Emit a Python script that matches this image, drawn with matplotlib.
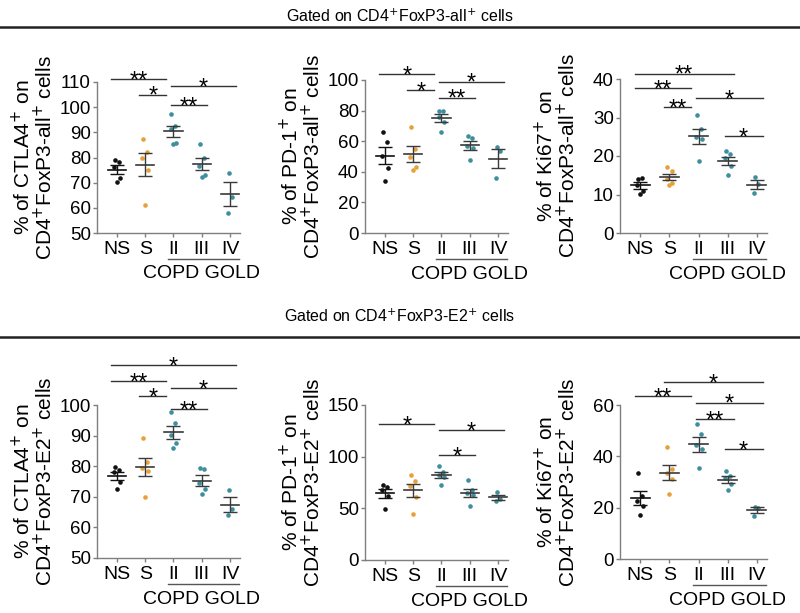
import numpy as np
import matplotlib.pyplot as plt
from matplotlib.lines import Line2D

plt.rcParams['font.family'] = ['Liberation Sans', 'DejaVu Sans']

# Groups
groups = ['NS', 'S', 'II', 'III', 'IV']
group_colors = ['#111111', '#E8A03A', '#3D8E9E']  # NS, S, COPD
point_colors = [group_colors[0], group_colors[1], group_colors[2], group_colors[2], group_colors[2]]

# Panel 1: CTLA4+ on CD4+FoxP3-all+ cells
ctla4_all_ns = [79.0, 78.3, 76.1, 72.0, 70.4]
ctla4_all_s = [87.5, 82.0, 80.0, 75.0, 61.0]
ctla4_all_ii = [97.1, 92.5, 91.3, 85.6, 85.3]
ctla4_all_iii = [85.2, 79.7, 76.6, 73.0, 72.4]
ctla4_all_iv = [74.0, 64.5, 57.9]

# Panel 2: PD-1+ on CD4+FoxP3-all+ cells
pd1_all_ns = [66.3, 59.8, 50.4, 42.4, 34.1]
pd1_all_s = [69.6, 55.0, 50.0, 43.0, 41.0]
pd1_all_ii = [80.0, 80.0, 76.0, 72.8, 65.7]
pd1_all_iii = [63.5, 62.0, 57.0, 55.5, 48.0]
pd1_all_iv = [55.9, 53.7, 35.9]

# Panel 3: Ki67+ on CD4+FoxP3-all+ cells
ki67_all_ns = [14.0, 14.2, 12.5, 10.8, 10.2]
ki67_all_s = [17.2, 16.0, 14.0, 13.0, 12.5]
ki67_all_ii = [30.7, 27.0, 25.0, 24.5, 18.6]
ki67_all_iii = [21.2, 20.5, 19.5, 17.5, 15.0]
ki67_all_iv = [14.5, 12.8, 10.4]

# Panel 4: CTLA4+ on CD4+FoxP3-E2+ cells
ctla4_e2_ns = [79.7, 78.6, 78.0, 75.0, 72.5]
ctla4_e2_s = [89.3, 81.3, 79.5, 78.5, 70.0]
ctla4_e2_ii = [97.6, 94.0, 90.2, 87.5, 86.1]
ctla4_e2_iii = [79.4, 79.2, 74.5, 72.5, 71.0]
ctla4_e2_iv = [72.3, 66.0, 64.1]

# Panel 5: PD-1+ on CD4+FoxP3-E2+ cells
pd1_e2_ns = [73.0, 71.0, 68.0, 62.0, 49.0]
pd1_e2_s = [82.0, 76.5, 72.0, 61.0, 45.0]
pd1_e2_ii = [91.0, 85.5, 82.0, 80.0, 72.6]
pd1_e2_iii = [77.0, 68.0, 65.0, 63.0, 52.3]
pd1_e2_iv = [65.5, 59.0, 57.5]

# Panel 6: Ki67+ on CD4+FoxP3-E2+ cells
ki67_e2_ns = [33.7, 24.5, 22.5, 20.8, 17.2]
ki67_e2_s = [43.5, 35.0, 33.5, 31.0, 25.4]
ki67_e2_ii = [52.6, 48.7, 44.4, 42.8, 35.4]
ki67_e2_iii = [34.3, 32.4, 31.5, 29.3, 27.0]
ki67_e2_iv = [20.4, 20.0, 16.8]

# Significance brackets: (from group, to group, height, label)
sig_ctla4_all = [(0, 2, 111.3, '**'), (1, 2, 105.0, '*'), (2, 4, 108.4, '*'), (2, 3, 100.8, '**')]
sig_pd1_all = [(0, 2, 103.9, '*'), (1, 2, 93.5, '*'), (2, 4, 98.9, '*'), (2, 3, 88.5, '**')]
sig_ki67_all = [(0, 3, 41.4, '**'), (0, 2, 37.7, '**'), (1, 2, 32.7, '**'), (2, 4, 35.1, '*'), (3, 4, 25.1, '*')]
sig_ctla4_e2 = [(0, 4, 113.0, '*'), (0, 2, 107.9, '**'), (1, 2, 102.9, '*'), (2, 4, 105.4, '*'), (2, 3, 98.6, '**')]
sig_pd1_e2 = [(0, 2, 131.6, '*'), (2, 4, 125.8, '*'), (2, 3, 101.6, '*')]
sig_ki67_e2 = [(1, 4, 68.8, '*'), (0, 2, 63.5, '**'), (2, 4, 60.9, '*'), (2, 3, 54.4, '**'), (3, 4, 42.9, '*')]

panels = [
    dict(data=[ctla4_all_ns, ctla4_all_s, ctla4_all_ii, ctla4_all_iii, ctla4_all_iv],
         ylim=(50, 110), ticks=[50, 60, 70, 80, 90, 100, 110], sig=sig_ctla4_all,
         ylabel='% of CTLA4$^{+}$ on\nCD4$^{+}$FoxP3-all$^{+}$ cells',
         pos=[97, 82, 240, 233]),
    dict(data=[pd1_all_ns, pd1_all_s, pd1_all_ii, pd1_all_iii, pd1_all_iv],
         ylim=(0, 100), ticks=[0, 20, 40, 60, 80, 100], sig=sig_pd1_all,
         ylabel='% of PD-1$^{+}$ on\nCD4$^{+}$FoxP3-all$^{+}$ cells',
         pos=[365, 80, 508, 233]),
    dict(data=[ki67_all_ns, ki67_all_s, ki67_all_ii, ki67_all_iii, ki67_all_iv],
         ylim=(0, 40), ticks=[0, 10, 20, 30, 40], sig=sig_ki67_all,
         ylabel='% of Ki67$^{+}$ on\nCD4$^{+}$FoxP3-all$^{+}$ cells',
         pos=[620, 79, 767, 233]),
    dict(data=[ctla4_e2_ns, ctla4_e2_s, ctla4_e2_ii, ctla4_e2_iii, ctla4_e2_iv],
         ylim=(50, 100), ticks=[50, 60, 70, 80, 90, 100], sig=sig_ctla4_e2,
         ylabel='% of CTLA4$^{+}$ on\nCD4$^{+}$FoxP3-E2$^{+}$ cells',
         pos=[97, 405, 240, 558]),
    dict(data=[pd1_e2_ns, pd1_e2_s, pd1_e2_ii, pd1_e2_iii, pd1_e2_iv],
         ylim=(0, 150), ticks=[0, 50, 100, 150], sig=sig_pd1_e2,
         ylabel='% of PD-1$^{+}$ on\nCD4$^{+}$FoxP3-E2$^{+}$ cells',
         pos=[365, 405, 508, 560]),
    dict(data=[ki67_e2_ns, ki67_e2_s, ki67_e2_ii, ki67_e2_iii, ki67_e2_iv],
         ylim=(0, 60), ticks=[0, 20, 40, 60], sig=sig_ki67_e2,
         ylabel='% of Ki67$^{+}$ on\nCD4$^{+}$FoxP3-E2$^{+}$ cells',
         pos=[620, 405, 767, 559]),
]

W, H = 800, 613
fig = plt.figure(figsize=(8, 6.13), dpi=100)

axis_gray = '#7f7f7f'
offsets = [-0.07, 0.07, -0.1, 0.1, 0.0]

for p in panels:
    x0, y0, x1, y1 = p['pos']
    ax = fig.add_axes([x0 / W, 1 - y1 / H, (x1 - x0) / W, (y1 - y0) / H])
    for i, vals in enumerate(p['data']):
        vals = np.array(vals)
        n = len(vals)
        jit = np.array(offsets[:n]) * (1 if n == 5 else 0.8)
        ax.plot(i + jit, vals, 'o', ms=3.3, color=point_colors[i], mec='none', zorder=3)
        m = vals.mean()
        sem = vals.std(ddof=1) / np.sqrt(n)
        lc = '#111111' if i == 0 else '#3a3a3a'
        ax.plot([i - 0.32, i + 0.32], [m, m], color=lc, lw=1.2, zorder=4)
        ax.errorbar(i, m, yerr=sem, color=lc, lw=1.0, capsize=5, capthick=1.0, zorder=4)

    ax.set_xlim(-0.7, 4.35)
    ax.set_ylim(*p['ylim'])
    ax.set_yticks(p['ticks'])
    ax.set_xticks(range(5))
    ax.set_xticklabels(groups)
    for s in ['top', 'right']:
        ax.spines[s].set_visible(False)
    for s in ['left', 'bottom']:
        ax.spines[s].set_color(axis_gray)
        ax.spines[s].set_linewidth(1.0)
    ax.tick_params(colors=axis_gray, labelcolor='black', labelsize=13.5, length=3, width=1, pad=1.5)
    ax.tick_params(axis='x', length=3, pad=2.5, labelsize=14)
    ax.set_ylabel(p['ylabel'], fontsize=15, linespacing=0.95)
    ax.yaxis.set_label_coords(-41 / (x1 - x0), 0.5)

    # significance brackets
    for a, b, y, lab in p['sig']:
        xa = a - 0.2 if a < 2 else a - 0.1
        xb = b - 0.25 if b == 2 else b + 0.2
        ax.plot([xa, xb], [y, y], color='#333333', lw=1.0, clip_on=False)
        ax.annotate(lab, ((xa + xb) / 2, y), xytext=(0, -6), textcoords='offset points',
                    ha='center', va='baseline', fontsize=17, annotation_clip=False)

    # COPD GOLD bracket
    trans = ax.get_xaxis_transform()
    ax.add_line(Line2D([1.8, 4.3], [-0.17, -0.17], color='#555555', lw=1.0,
                       transform=trans, clip_on=False))
    ax.text(3.0, -0.215, 'COPD GOLD', transform=trans, ha='center', va='top', fontsize=14)

# section headers
for ty, ly, label in [(16, 27, 'Gated on CD4$^{+}$FoxP3-all$^{+}$ cells'),
                      (316, 337, 'Gated on CD4$^{+}$FoxP3-E2$^{+}$ cells')]:
    fig.text(0.5, 1 - ty / H, label, ha='center', va='center', fontsize=11.5,
             family=['Liberation Sans Narrow', 'Liberation Sans'])
    fig.add_artist(Line2D([0, 1], [1 - ly / H, 1 - ly / H], color='#222222', lw=1.8,
                          transform=fig.transFigure))

fig.savefig('out.png', dpi=100)
